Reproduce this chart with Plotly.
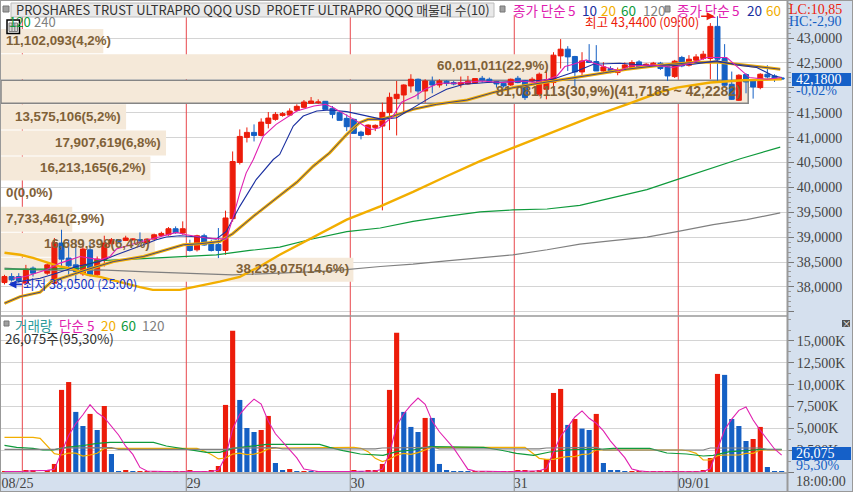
import plotly.graph_objects as go

W, H = 853, 492
RED, BLUE = "#EC1C0A", "#1560C4"
NAVY, ORANGE, GREEN, GRAY, MAGENTA = "#1A2FA0", "#F2AE00", "#0F9A3C", "#808080", "#E020B0"
BROWN = "#7F6137"
UI = "Noto Sans CJK KR"
NARROW = "Liberation Sans Narrow"

opens = [38087,38208,38208,38075,38377,None,38276,38075,38881,38579,38443,38262,38746,38242,38530,38867,38948,38933,38948,38948,
         38881,38961,39034,39048,39169,39082,38867,38746,39028,38867,38853,38732,39371,40500,41004,41105,41044,41286,41367,41447,
         41453,41548,41609,41689,41703,41730,41589,41502,41387,41367,41111,41064,41206,41232,41502,41784,41857,42038,42173,41937,
         42133,42058,42133,42107,42066,42079,42099,42193,42173,42127,42093,42058,42193,42147,42139,41871,41972,42107,42643,42778,
         42631,42320,42542,42530,42340,42389,42308,42389,42409,42522,42429,42441,42496,42421,42227,42611,42455,42556,42590,42590,
         43236,42590,42072,41750,42268,42139,42006,42274,42240,42200]
highs = [38242,38276,38276,38443,38410,None,38476,38982,39149,38948,38948,38847,38913,38611,39028,38982,38961,39028,38975,39095,
         38975,39068,39109,39203,39216,39317,38948,39048,39068,38948,39183,39532,40722,41165,41205,41266,41387,41514,41514,41514,
         41589,41669,41756,41816,41770,41736,41635,41534,41468,41381,41139,41266,41266,41703,41905,42139,42072,42274,42187,42173,
         42228,42173,42153,42139,42228,42240,42187,42240,42207,42139,42107,42187,42240,42159,42213,42308,42335,42717,42980,42838,
         42643,42717,42879,42859,42516,42435,42409,42510,42556,42556,42496,42522,42522,42455,42562,42643,42657,42677,42744,43302,
         43440,42879,42328,42274,42294,42173,42294,42455,42274,42220]
lows = [38050,38107,38087,38060,38208,None,38242,38060,38410,38242,38107,38222,38208,38208,38410,38847,38881,38921,38927,38913,
        38867,38948,39014,39028,39068,39048,38712,38712,38827,38712,38579,38645,39310,40460,40903,40923,41024,41185,41340,41421,
        41433,41522,41589,41683,41675,41568,41387,41347,41131,41078,40964,41044,41131,39538,41151,41044,41522,41905,41770,41703,
        41891,42006,42038,42052,42006,42066,42093,42107,42107,42006,42006,42038,42093,41756,42113,41830,41770,41911,42389,42340,
        42038,42240,42510,42340,42320,42294,42254,42361,42389,42401,42415,42429,42361,42139,42199,42415,42429,42522,42562,42173,
        42113,42006,41756,41736,41891,41784,41972,42187,42119,42160]
closes = [38208,38141,38127,38357,38276,None,38443,38893,38558,38423,38308,38760,38242,38558,38881,38948,38907,38982,38961,38927,
          38961,39048,39075,39169,39088,39169,38732,39028,38841,38732,38732,39385,40520,41024,41105,41044,41312,41393,41468,41482,
          41534,41629,41716,41736,41716,41568,41468,41347,41220,41085,41044,41252,41246,41508,41810,41871,42058,42173,41937,42139,
          42058,42139,42087,42079,42107,42133,42187,42153,42133,42079,42038,42173,42107,41804,42173,42274,42159,42657,42778,42623,
          42320,42542,42510,42340,42421,42308,42361,42461,42510,42421,42476,42496,42389,42240,42536,42441,42576,42623,42677,43236,
          42576,42052,41770,42254,42119,42018,42274,42220,42173,42180]

ma5_x = [1.2,2.9,5.9,7.8,10.6,13.4,14.8,15.7,18.5,21.3,24.1,25.5,28.3,31.1,32.1,33,33.9,34.9,36.3,38.1,41,43.4,45,46,47.8,49,50.5,51.5,52.6,54.5,55.7,57.6,59,60.9,63.3,66.9,69.7,72.5,74.4,76.2,77.5,78.6,79.8,81.6,82.4,84.5,86.3,87.7,91,93.8,96.6,98.5,101.3,103.2,104.5,106.9,109]
ma5_y = [38175,38208,38343,38478,38611,38544,38611,38760,38881,38982,39095,39048,38982,38961,39417,39889,40292,40560,41030,41266,41534,41635,41669,41609,41468,41367,41232,41165,41200,41433,41710,41837,41972,42093,42093,42139,42107,42139,42107,42173,42240,42429,42476,42562,42510,42409,42340,42441,42461,42409,42510,42610,42610,42375,42207,42173,42207]
ma10_x = [0.8,5,7.3,10.1,13.4,15.7,19.5,21.3,22.7,24.6,27.4,29.7,31.1,33,35.3,37.7,38.6,39.6,40.5,41.9,43.8,45.6,48,49.8,51.7,53,55,57.3,59.7,62,64.4,67.7,71.3,74.1,76.9,78.9,80.3,82.6,86.3,90,93,96.6,99.9,102.7,105.5,107.9,109]
ma10_y = [38075,38175,38276,38410,38510,38645,38847,38948,39002,39028,39002,38961,39115,39619,40157,40560,40661,40964,41232,41433,41534,41554,41522,41468,41401,41367,41401,41603,41804,41972,42072,42107,42119,42139,42173,42274,42340,42476,42496,42455,42441,42476,42542,42461,42409,42240,42207]
ma20_x = [0,2.2,5,6.6,11.5,15.3,19.5,22.7,25.1,27.4,30.2,32,34.9,38.6,41,43.3,45.6,48,49.8,51,52.7,54.5,57.3,60.6,64.9,68.5,71.4,74.1,77,77.9,82.6,87.3,92,96.6,99.9,104.1,108.8]
ma20_y = [37671,37805,37893,38107,38343,38510,38611,38746,38847,38867,38913,39068,39417,39835,40103,40425,40695,41064,41300,41367,41367,41433,41568,41669,41756,41905,42006,42072,42139,42173,42274,42375,42455,42510,42522,42455,42375]
long_x = [0,2.2,4,6,7.8,9.6,11.6,13.4,15.2,17.2,19,20.8,24.6,27.4,30.2,33,35.8,38.6,41.4,48,52.7,57.3,62,66.7,71.3,76.1,77.9,82.6,87.3,92,94.3,99,103.6,109]
long_y = [38685,38645,38585,38490,38409,38363,38242,38202,38141,38060,37994,37940,37940,38020,38107,38202,38409,38645,38857,39351,39619,39909,40224,40526,40796,41064,41165,41433,41669,41917,42006,42107,42153,42173]
green_x = [0,2.6,6.4,10.6,13,18,24.6,29.7,34.4,38.6,43,48,52.7,57.3,62,66.7,71.3,76.1,80.7,85.3,90.1,94.3,103.2,108.8]
green_y = [38357,38357,38357,38377,38525,38558,38611,38645,38732,38800,38958,39109,39183,39316,39417,39506,39546,39566,39639,39788,39956,40157,40575,40808]
gray_x = [0,4,8.7,13.4,20,29.3,32,38.6,46,52.7,57.3,62,66.7,71.3,76.1,80.7,85.3,90.1,94.5,99.4,104.1,108.8]
gray_y = [38377,38343,38329,38343,38300,38262,38242,38276,38322,38410,38458,38524,38579,38645,38746,38861,38928,39002,39115,39250,39351,39486]

volume_k = [20,20,20,230,230,0,230,920,9400,10300,6880,5270,6650,4810,7560,2060,110,230,110,110,
            20,20,20,20,20,20,190,20,20,230,690,7680,16160,8250,5040,4580,4810,6420,1030,230,
            340,80,80,110,20,20,20,20,20,230,110,120,120,920,9400,15930,6880,5160,4580,6190,
            6190,920,230,110,110,110,20,20,20,20,20,20,230,230,20,230,1490,9050,9510,5390,
            6070,4970,4810,6650,1030,230,230,110,80,20,20,20,20,20,20,20,20,20,230,1600,
            11230,11120,6070,5270,3550,3780,5160,570,110,100]
volume_dir = "rrrrrrrrrrbbrbrbbrbrrrrrrrrrrrrrrbbbrrbbrbrbrrrrrrbrrrrrbbbrbbbbbbrrrrrrrrrrrrrbrbbrbbbbrrrrrrrrrrrrrbbbbrrbbb"
vol_ma5 = [40,40,40,90,140,140,190,322,2156,4170,5546,6554,7700,6782,6234,5270,4238,2954,2014,524,
           120,90,50,20,20,20,50,50,50,90,200,1740,4950,6602,7564,8342,7768,5820,4376,3414,
           2566,1620,346,170,60,50,40,20,20,60,80,100,120,300,2130,5290,6672,7658,8470,7748,
           5800,4608,3622,2728,1512,296,110,80,50,20,20,20,60,100,100,140,390,2190,4090,5134,
           6302,6998,6150,5578,4706,3538,2590,1650,336,130,60,40,20,20,20,20,20,20,60,370,
           2610,4836,6050,7058,7448,5958,4766,3666,2634,1930]
vma20_x = [0,4,5,6,7,8,9,10,11,12,13,14,27,28,29,30,31,32,33,34,35,36,37,38,49,50,51,52,53,54,55,56,57,58,59,60,73,74,75,76,77,78,79,80,81,82,83,95,96,97,98,99,100,101,103,104,105,106,109]
vma20_y = [3970,3970,3850,3000,2100,1950,2150,2150,1830,1950,2150,2700,2700,2400,2000,1500,1600,2050,2150,2000,2050,2250,2650,2750,2830,2710,2330,1566,1184,1452,1948,2140,2025,2216,2520,2827,2827,2216,1566,1452,1452,1643,1757,1757,2025,2063,2520,2520,2406,2140,1375,1375,1872,1948,1948,2140,2140,2520,2520]
vma60_x = [0,1.7,4,5.4,6.8,8.7,10.6,13,14.8,20.9,22.7,24.6,26.5,28.3,30.2,32.1,34,36.8,41.4,44.2,45.6,47.5,49.9,53.1,55,57.3,59.7,63.4,67.2,69.5,71.8,74.2,76.5,78.8,80.7,83.5,85.4,90.5,91.9,92.9,95.7,98,99.4,101.7,104.1,106,109]
vma60_y = [3056,2827,2712,2520,2520,2827,2980,3285,3400,3400,2980,2712,2520,2254,2254,2712,2903,3170,3170,3170,2827,2445,2063,1910,2330,2520,2903,2827,2827,2520,2140,1910,2292,2520,2598,2598,2712,2712,2368,2177,2063,1834,1910,2330,2445,2598,2598]
vma120_x = [0,7,8,15,16,31,32,38,39,52,53,60,61,75,76,83,84,98,99,106,107,109]
vma120_y = [2598,2598,2750,2790,2598,2598,2750,2790,2640,2640,2750,2830,2640,2640,2750,2830,2520,2520,2750,2750,2560,2560]

profile_volume = [11102093,60011011,81081113,13575106,17907619,16213165,0,7733461,16689398,38239075]
profile_text = ["11,102,093(4,2%)","60,011,011(22,9%)","81,081,113(30,9%)(41,7185 ~ 42,2282)","13,575,106(5,2%)",
                "17,907,619(6,8%)","16,213,165(6,2%)","0(0,0%)","7,733,461(2,9%)","16,689,398(6,4%)","38,239,075(14,6%)"]
profile_low = [42697,42173,41689,41165,40641,40137,39613,39109,38605,38101]
profile_high = [43181,42677,42153,41669,41145,40621,40117,39613,39089,38585]
profile_label_price = [42959,42455,41931,41427,40903,40399,39895,39371,38867,38363]

day_starts = [2.5,25.5,48.5,71.5,94.5]
day_labels = ["08/25","29","30","31","09/01"]
day_label_pos = [1.82,26.5,49.5,72.4,96.7]
price_ticks = [37500,38000,38500,39000,39500,40000,40500,41000,41500,42000,42500,43000]
price_text = ["","38,0000","38,5000","39,0000","39,5000","40,0000","40,5000","41,0000","41,5000","","42,5000","43,0000"]
vol_ticks = [0,2500,5000,7500,10000,12500,15000]
vol_text = ["","2,500K","5,000K","7,500K","10,000K","12,500K","15,000K"]

XR = [-0.49, 109.75]
idx = list(range(len(closes)))

def px(x):
    return x / W
def py(y):
    return 1 - y / H

fig = go.Figure()

def line(xs, ys, color, width, xa="x", ya="y", name=""):
    fig.add_trace(go.Scatter(x=xs, y=ys, mode="lines", line=dict(color=color, width=width), xaxis=xa, yaxis=ya, name=name, hoverinfo="skip"))

fig.add_trace(go.Candlestick(x=idx, open=opens, high=highs, low=lows, close=closes, name="price",
    increasing=dict(line=dict(color=RED, width=1), fillcolor=RED),
    decreasing=dict(line=dict(color=BLUE, width=1), fillcolor=BLUE), whiskerwidth=0, xaxis="x", yaxis="y"))
line(gray_x, gray_y, GRAY, 1.2, name="120")
line(green_x, green_y, GREEN, 1.2, name="60")
line(long_x, long_y, ORANGE, 2.4, name="60 long")
line(ma20_x, ma20_y, ORANGE, 3, name="20")
line(ma20_x, ma20_y, NAVY, 0.8, name="20 inner")
line(ma10_x, ma10_y, NAVY, 1.1, name="10")
line(ma5_x, ma5_y, MAGENTA, 1.1, name="5")

fig.add_trace(go.Bar(x=idx, y=volume_k, width=0.72, marker=dict(color=[RED if c == "r" else BLUE for c in volume_dir], line=dict(width=0)),
                     xaxis="x2", yaxis="y2", name="volume", hoverinfo="skip"))
line(vma20_x, vma20_y, ORANGE, 1.2, "x2", "y2", "v20")
line(vma60_x, vma60_y, GREEN, 1.2, "x2", "y2", "v60")
line(vma120_x, vma120_y, GRAY, 1.2, "x2", "y2", "v120")
line(idx, vol_ma5, MAGENTA, 1.1, "x2", "y2", "v5")

shapes = []
for d in day_starts:
    shapes.append(dict(type="line", xref="x", yref="y", x0=d, x1=d, y0=37415, y1=43463, line=dict(color="#E8474C", width=1), layer="between"))
    shapes.append(dict(type="line", xref="x2", yref="y2", x0=d, x1=d, y0=-115, y1=17862, line=dict(color="#E8474C", width=1), layer="between"))
bar_scale = 104.8 / max(profile_volume)
for k, v in enumerate(profile_volume):
    if v == 0:
        continue
    is_max = v == max(profile_volume)
    shapes.append(dict(type="rect", xref="x", yref="y", x0=XR[0], x1=XR[0] + v * bar_scale, y0=profile_low[k], y1=profile_high[k],
                       fillcolor="#F5E9D9", line=dict(color="#858585", width=1.5) if is_max else dict(width=0), layer="between"))

# frame and panels
shapes += [
    dict(type="line", xref="paper", yref="paper", x0=px(787.5), x1=px(787.5), y0=py(492), y1=py(0), line=dict(color="#999999", width=2), layer="above"),
    dict(type="line", xref="paper", yref="paper", x0=0, x1=px(787.5), y0=py(316), y1=py(316), line=dict(color="#999999", width=1.5), layer="above"),
    dict(type="line", xref="paper", yref="paper", x0=0, x1=px(787.5), y0=py(473), y1=py(473), line=dict(color="#999999", width=1.5), layer="above"),
    dict(type="rect", xref="paper", yref="paper", x0=0, x1=1, y0=0, y1=1, line=dict(color="#999999", width=2), layer="above"),
    dict(type="rect", xref="paper", yref="paper", x0=px(11), x1=px(494), y0=py(17), y1=py(3), fillcolor="#E9E9E9", line=dict(color="#BBBBBB", width=1), layer="above"),
    dict(type="rect", xref="paper", yref="paper", x0=px(3), x1=px(9), y0=py(12), y1=py(6), fillcolor="#A0A0A0", line=dict(color="#777777", width=1), layer="above"),
    dict(type="rect", xref="paper", yref="paper", x0=px(500), x1=px(505), y0=py(12), y1=py(6), fillcolor="#A0A0A0", line=dict(color="#777777", width=1), layer="above"),
    dict(type="rect", xref="paper", yref="paper", x0=px(665), x1=px(670), y0=py(12), y1=py(6), fillcolor="#A0A0A0", line=dict(color="#777777", width=1), layer="above"),
    dict(type="rect", xref="paper", yref="paper", x0=px(4), x1=px(9), y0=py(326), y1=py(321), fillcolor="#A0A0A0", line=dict(color="#777777", width=1), layer="above"),
    dict(type="rect", xref="paper", yref="paper", x0=px(7), x1=px(19.5), y0=py(33.5), y1=py(20), fillcolor="#FFFFFF", line=dict(color="#000000", width=1.5), layer="above"),
    dict(type="rect", xref="paper", yref="paper", x0=px(9), x1=px(17.5), y0=py(31.5), y1=py(23), fillcolor="#D8D8D8", line=dict(color="#808080", width=1), layer="above"),
    dict(type="line", xref="paper", yref="paper", x0=px(12), x1=px(12), y0=py(31.5), y1=py(23), line=dict(color="#808080", width=1), layer="above"),
    dict(type="line", xref="paper", yref="paper", x0=px(14.8), x1=px(14.8), y0=py(31.5), y1=py(23), line=dict(color="#808080", width=1), layer="above"),
    dict(type="line", xref="paper", yref="paper", x0=px(9), x1=px(17.5), y0=py(26), y1=py(26), line=dict(color="#808080", width=1), layer="above"),
    dict(type="rect", xref="paper", yref="paper", x0=px(792), x1=px(851), y0=py(86), y1=py(73), fillcolor="#1560C8", line=dict(width=0), layer="above"),
    dict(type="rect", xref="paper", yref="paper", x0=px(792), x1=px(851), y0=py(460), y1=py(447), fillcolor="#1560C8", line=dict(width=0), layer="above"),
    dict(type="rect", xref="paper", yref="paper", x0=px(842), x1=px(850), y0=py(327), y1=py(320), fillcolor="#505050", line=dict(width=0), layer="above"),
]
for d in day_starts[1:]:
    shapes.append(dict(type="line", xref="x2", yref="paper", x0=d, x1=d, y0=0, y1=py(473), line=dict(color="#999999", width=1.2), layer="above"))

annos = []
def note(x, y, text, color, size=13.5, anchor="left", family=UI):
    annos.append(dict(xref="paper", yref="paper", x=px(x), y=py(y), text=text, showarrow=False, xanchor=anchor, yanchor="middle",
                      font=dict(family=family, size=size, color=color), borderpad=0, borderwidth=0))

# profile labels
for k, t in enumerate(profile_text):
    end = XR[0] + profile_volume[k] * bar_scale
    right_px = 4.49 + 7.13 * end - 3
    width_px = len(t) * 6.65
    top = profile_volume[k] == max(profile_volume)
    label_font = dict(family="Liberation Sans", size=14 if top else 13.3, color=BROWN, weight="bold")
    if right_px - width_px < 4:
        annos.append(dict(xref="paper", yref="y", x=px(4), y=profile_label_price[k], text=t, showarrow=False, xanchor="left", yanchor="middle", font=label_font))
    else:
        annos.append(dict(xref="x", yref="y", x=end - (0.7 if top else 0.4), y=profile_label_price[k], text=t, showarrow=False, xanchor="right", yanchor="middle", font=label_font))

note(16, 10, "PROSHARES TRUST ULTRAPRO QQQ USD  PROETF ULTRAPRO QQQ 매물대 수(10)", "#333333", 12.9)
for x, t, c in [(513, "종가 단순", MAGENTA), (568, "5", MAGENTA), (582, "10", NAVY), (601, "20", ORANGE), (621, "60", GREEN), (643, "120", GRAY),
                (677, "종가 단순", MAGENTA), (732, "5", MAGENTA), (747, "20", NAVY), (766, "60", ORANGE)]:
    note(x, 10, t, c, 13.5)
note(9, 22, "120", GREEN, 13)
note(34, 22, "240", "#808080", 13)
note(789, 9, "LC:10,85", RED, 14, family=NARROW)
note(789, 21, "HC:-2,90", BLUE, 14, family=NARROW)
note(796, 79.5, "42,1800", "#FFFFFF", 14, family=NARROW)
note(796, 91, "-0,02%", BLUE, 14, family=NARROW)
note(796, 453.5, "26,075", "#FFFFFF", 14, family=NARROW)
note(796, 465, "95,30%", BLUE, 14, family=NARROW)
note(796, 481, "18:00:00", "#444444", 14, family=NARROW)
note(846, 323.5, "×", "#FFFFFF", 9, "center")
note(15, 325, "거래량", "#2E9C9C", 13.5)
note(59, 325, "단순", MAGENTA, 13.5)
note(87, 325, "5", MAGENTA, 13.5)
note(101, 325, "20", ORANGE, 13.5)
note(121, 325, "60", GREEN, 13.5)
note(142, 325, "120", GRAY, 13.5)
note(5, 338, "26,075주(95,30%)", "#333333", 13.5)
note(23, 283, "최저 38,0500 (25:00)", "#1535C8", 12.6)
note(585, 21, "최고 43,4400 (09:00)", RED, 12.6)
annos.append(dict(xref="x", yref="y", x=0.55, y=38050, ax=15, ay=0, text="", showarrow=True, arrowhead=2, arrowsize=1, arrowwidth=1.6, arrowcolor="#1535C8", axref="pixel", ayref="pixel"))
annos.append(dict(xref="x", yref="y", x=99.6, y=43440, ax=-15, ay=0, text="", showarrow=True, arrowhead=2, arrowsize=1, arrowwidth=1.6, arrowcolor=RED, axref="pixel", ayref="pixel"))

axis_font = dict(family=NARROW, size=14, color="#444444")
fig.update_layout(
    width=W, height=H, margin=dict(l=0, r=0, t=0, b=0), autosize=False, showlegend=False, hovermode=False,
    paper_bgcolor="#D5E0EE", plot_bgcolor="#FFFFFF", barmode="overlay", boxgap=0.3, boxgroupgap=0,
    shapes=shapes, annotations=annos,
    xaxis=dict(domain=[px(1), px(787)], range=XR, showgrid=False, showticklabels=False, ticks="", zeroline=False, anchor="y", rangeslider=dict(visible=False), fixedrange=True),
    yaxis=dict(domain=[py(316), py(1)], range=[37415, 43746], side="right", anchor="x", tickvals=price_ticks, ticktext=price_text,
               gridcolor="#D4D4D4", gridwidth=1, ticks="outside", ticklen=6, tickcolor="#777777", tickfont=axis_font, zeroline=False, fixedrange=True,
               minor=dict(dtick=100, ticklen=3, ticks="outside", tickcolor="#999999", showgrid=False)),
    xaxis2=dict(domain=[px(1), px(787)], range=XR, showgrid=False, ticks="", zeroline=False, anchor="y2", tickvals=day_label_pos, ticktext=day_labels, tickfont=axis_font, fixedrange=True),
    yaxis2=dict(domain=[py(473), py(316)], range=[-115, 17862], side="right", anchor="x2", tickvals=vol_ticks, ticktext=vol_text,
                gridcolor="#D4D4D4", gridwidth=1, ticks="outside", ticklen=6, tickcolor="#777777", tickfont=axis_font, zeroline=False, fixedrange=True,
                minor=dict(dtick=1250, ticklen=3, ticks="outside", tickcolor="#999999", showgrid=False)),
)
fig.write_html("out.html", config={"displayModeBar": False},
               post_script="document.body.style.margin='0';document.documentElement.style.overflow='hidden';")
